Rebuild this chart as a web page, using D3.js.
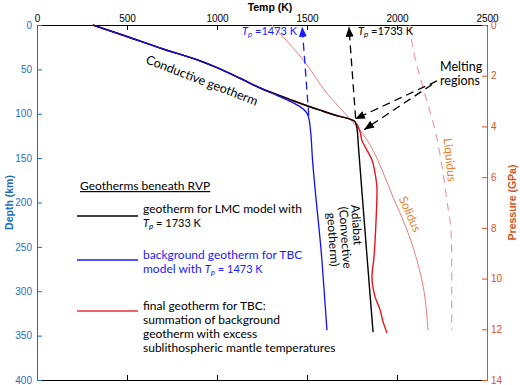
<!DOCTYPE html>
<html>
<head>
<meta charset="utf-8">
<script src="https://cdn.jsdelivr.net/npm/d3@7"></script>
<style>
  body { margin: 0; background: #fff; }
  svg { display: block; }
  .tick text { font-family: "Liberation Sans", Arial, sans-serif; font-size: 10px; }
  .note { font-family: Lato, "Noto Sans", sans-serif; font-size: 12px; }
</style>
</head>
<body>
<svg id="chart"></svg>
<script>
// Axis ticks
const tempTicks = [0, 500, 1000, 1500, 2000, 2500];
const depthTicks = [0, 50, 100, 150, 200, 250, 300, 350, 400];
const pressureTicks = [0, 2, 4, 6, 8, 10, 12, 14];

// shared conductive part (K, km)
const conductiveTemp = [310, 500, 700, 900, 1000, 1128, 1240];
const conductiveDepth = [0, 13, 27, 40, 48, 60, 71];

// LMC geotherm (black)
const lmcTemp = [1406, 1572, 1683, 1739, 1767, 1778, 1785, 1835, 1867];
const lmcDepth = [84, 96, 103, 106, 109, 117, 135, 265, 346];

// TBC background geotherm (blue)
const bgTemp = [1330, 1406, 1461, 1495, 1510, 1520, 1530, 1583, 1611];
const bgDepth = [79, 86, 92, 98, 105, 120, 150, 265, 344];

// TBC final geotherm (red)
const finalTemp = [1406, 1572, 1683, 1739, 1767, 1794, 1805, 1833, 1861, 1878, 1889, 1883, 1872, 1861, 1878, 1906, 1922, 1944];
const finalDepth = [84, 96, 103, 106, 109, 120, 130, 141, 152, 167, 186, 223, 262, 284, 306, 321, 334, 347];

// solidus and liquidus
const solidusTemp = [1305, 1478, 1611, 1739, 1800, 1850, 1920, 1978, 2050, 2111, 2150, 2172];
const solidusDepth = [0, 39, 77, 106, 120, 135, 165, 194, 228, 265, 300, 344];
const liquidusTemp = [2072, 2083, 2144, 2211, 2256, 2278, 2300, 2304, 2304];
const liquidusDepth = [0, 20, 70, 118, 167, 199, 231, 265, 344];

// potential temperature extrapolations [temp, depth]
const tpLmc = [[1770, 105], [1733, 2]];
const tpBg = [[1510, 102], [1473, 2]];

// "Melting regions" pointers
const meltArrows = [
  [[2222, 63], [1767, 106]],
  [[2195, 67], [1817, 118]]
];

const width = 520;
const height = 385;
const margin = { top: 25, right: 33, bottom: 5, left: 37 };

const svg = d3.select("#chart")
    .attr("width", width)
    .attr("height", height);

const x = d3.scaleLinear().domain([0, 2500]).range([margin.left, width - margin.right]);
const y = d3.scaleLinear().domain([0, 400]).range([margin.top, height - margin.bottom]);
const yP = d3.scaleLinear().domain([0, 14]).range([margin.top, height - margin.bottom]);

const blueAxis = "#1f6fbf";
const orangeAxis = "#d9541e";

// arrow heads
const defs = svg.append("defs");
[["arrowBlack", "#000"], ["arrowBlue", "#1a1aff"]].forEach(([id, c]) => {
  defs.append("marker")
      .attr("id", id)
      .attr("markerUnits", "userSpaceOnUse")
      .attr("markerWidth", 10)
      .attr("markerHeight", 8)
      .attr("refX", 10)
      .attr("refY", 4)
      .attr("orient", "auto")
    .append("path")
      .attr("d", "M0,0 L10,4 L0,8 Z")
      .attr("fill", c);
});

// Axes
const fmt = d3.format("d");
svg.append("g")
    .attr("transform", `translate(0,${margin.top})`)
    .call(d3.axisTop(x).tickValues(tempTicks).tickFormat(fmt).tickSizeInner(-5).tickSizeOuter(0).tickPadding(3));
svg.append("g")
    .attr("transform", `translate(0,${height - margin.bottom})`)
    .call(d3.axisBottom(x).tickValues(tempTicks).tickSizeInner(-5).tickSizeOuter(0).tickFormat(""));
const leftAxis = svg.append("g")
    .attr("transform", `translate(${margin.left},0)`)
    .call(d3.axisLeft(y).tickValues(depthTicks).tickFormat(fmt).tickSizeInner(-5).tickSizeOuter(0).tickPadding(5));
const rightAxis = svg.append("g")
    .attr("transform", `translate(${width - margin.right},0)`)
    .call(d3.axisRight(yP).tickValues(pressureTicks).tickFormat(fmt).tickSizeInner(-5).tickSizeOuter(0).tickPadding(4));

leftAxis.selectAll("path, line").attr("stroke", blueAxis);
leftAxis.selectAll("text").attr("fill", blueAxis);
rightAxis.selectAll("path, line").attr("stroke", orangeAxis);
rightAxis.selectAll("text").attr("fill", orangeAxis);

// axis titles
svg.append("text")
    .attr("x", 270).attr("y", 11)
    .attr("text-anchor", "middle")
    .style("font-family", "Liberation Sans, Arial, sans-serif")
    .style("font-size", "10.5px").style("font-weight", "bold")
    .text("Temp (K)");
svg.append("text")
    .attr("transform", `translate(13,${(y(0) + y(400)) / 2}) rotate(-90)`)
    .attr("text-anchor", "middle")
    .attr("fill", blueAxis)
    .style("font-family", "Liberation Sans, Arial, sans-serif")
    .style("font-size", "10.5px").style("font-weight", "bold")
    .text("Depth (km)");
svg.append("text")
    .attr("transform", `translate(516,${(y(0) + y(400)) / 2}) rotate(-90)`)
    .attr("text-anchor", "middle")
    .attr("fill", orangeAxis)
    .style("font-family", "Liberation Sans, Arial, sans-serif")
    .style("font-size", "10.5px").style("font-weight", "bold")
    .text("Pressure (GPa)");

const line = d3.line()
    .x(d => x(d[0]))
    .y(d => y(d[1]))
    .curve(d3.curveMonotoneY);

const pairs = (t, d) => t.map((v, i) => [v, d[i]]);
const cond = pairs(conductiveTemp, conductiveDepth);

// melting curves
svg.append("path")
    .attr("d", line(pairs(liquidusTemp, liquidusDepth)))
    .attr("fill", "none").attr("stroke", "#f09aa6").attr("stroke-width", 1.2)
    .attr("stroke-dasharray", "8,6");
svg.append("path")
    .attr("d", line(pairs(solidusTemp, solidusDepth)))
    .attr("fill", "none").attr("stroke", "#f27b7b").attr("stroke-width", 1);

// potential temperature arrows
const straight = d3.line().x(d => x(d[0])).y(d => y(d[1]));
svg.append("path")
    .attr("d", straight(tpBg))
    .attr("stroke", "#1a1aff").attr("stroke-width", 1.3)
    .attr("stroke-dasharray", "8,5")
    .attr("marker-end", "url(#arrowBlue)");
svg.append("path")
    .attr("d", straight(tpLmc))
    .attr("stroke", "#000").attr("stroke-width", 1.3)
    .attr("stroke-dasharray", "8,5")
    .attr("marker-end", "url(#arrowBlack)");

// geotherms
svg.append("path")
    .attr("d", line(cond.concat(pairs(finalTemp, finalDepth))))
    .attr("fill", "none").attr("stroke", "#e8141c").attr("stroke-width", 1.4);
svg.append("path")
    .attr("d", line(cond.concat(pairs(lmcTemp, lmcDepth))))
    .attr("fill", "none").attr("stroke", "#000").attr("stroke-width", 1.4);
svg.append("path")
    .attr("d", line(cond.concat(pairs(bgTemp, bgDepth))))
    .attr("fill", "none").attr("stroke", "#1010f0").attr("stroke-width", 1.3);

// melting region pointers
meltArrows.forEach(a => {
  svg.append("path")
      .attr("d", straight(a))
      .attr("stroke", "#000").attr("stroke-width", 1.3)
      .attr("stroke-dasharray", "8,5")
      .attr("marker-end", "url(#arrowBlack)");
});

// annotations
const tp = (sel, rest) => {
  sel.append("tspan").style("font-style", "italic").text("T");
  sel.append("tspan").style("font-style", "italic").style("font-size", "8px").attr("dy", 2).text("p");
  sel.append("tspan").attr("dy", -2).text(rest);
};

svg.append("text").attr("class", "note")
    .attr("x", 242).attr("y", 35).attr("fill", "#1a1aff")
    .style("font-size", "11px")
    .call(tp, " =1473 K");
svg.append("text").attr("class", "note")
    .attr("x", 358).attr("y", 35).attr("fill", "#000")
    .style("font-size", "11px")
    .call(tp, " =1733 K");

svg.append("text").attr("class", "note")
    .attr("x", 440).attr("y", 71).style("font-size", "12.5px").text("Melting");
svg.append("text").attr("class", "note")
    .attr("x", 440).attr("y", 85).style("font-size", "12.5px").text("regions");

svg.append("text").attr("class", "note")
    .attr("transform", "translate(145,63) rotate(21)")
    .style("font-size", "12.5px")
    .text("Conductive geotherm");

const adiabatLines = ["Adiabat", "(Convective", "geotherm)"];
const adiabatStart = [205, 207, 213];
adiabatLines.forEach((s, i) => {
  svg.append("text").attr("class", "note")
      .attr("transform", `translate(${351 - i * 12},${adiabatStart[i]}) rotate(86)`)
      .text(s);
});

svg.append("text").attr("class", "note")
    .attr("transform", "translate(410,214) rotate(66)")
    .attr("text-anchor", "middle").attr("dy", "0.35em")
    .attr("fill", "#e8822a")
    .text("Solidus");
svg.append("text").attr("class", "note")
    .attr("transform", "translate(450,160) rotate(84)")
    .attr("text-anchor", "middle").attr("dy", "0.35em")
    .attr("fill", "#e8822a")
    .text("Liquidus");

// legend
svg.append("text").attr("class", "note")
    .attr("x", 80).attr("y", 190)
    .style("text-decoration", "underline")
    .text("Geotherms beneath RVP");

const legend = [
  { color: "#000", text: "#000", ly: 216, y0: 213, lines: ["geotherm for LMC model with", "tp: = 1733 K"] },
  { color: "#1a1aff", text: "#1a1aff", ly: 260, y0: 259, lines: ["background geotherm for TBC", "model with tp: = 1473 K"] },
  { color: "#e8303c", text: "#000", ly: 311, y0: 310, lines: ["final geotherm for TBC:", "summation of background", "geotherm with excess", "sublithospheric mantle temperatures"] }
];

legend.forEach(l => {
  svg.append("line")
      .attr("x1", 77).attr("x2", 138)
      .attr("y1", l.ly).attr("y2", l.ly)
      .attr("stroke", l.color).attr("stroke-width", 1.5);
  l.lines.forEach((s, i) => {
    const t = svg.append("text").attr("class", "note")
        .attr("x", 143).attr("y", l.y0 + i * 14)
        .attr("fill", l.text);
    if (s.includes("tp:")) {
      const [pre, post] = s.split("tp:");
      if (pre) t.append("tspan").text(pre);
      const g = t.append("tspan").style("font-size", "11px");
      tp(g, post);
    } else {
      t.text(s);
    }
  });
});
</script>
</body>
</html>
